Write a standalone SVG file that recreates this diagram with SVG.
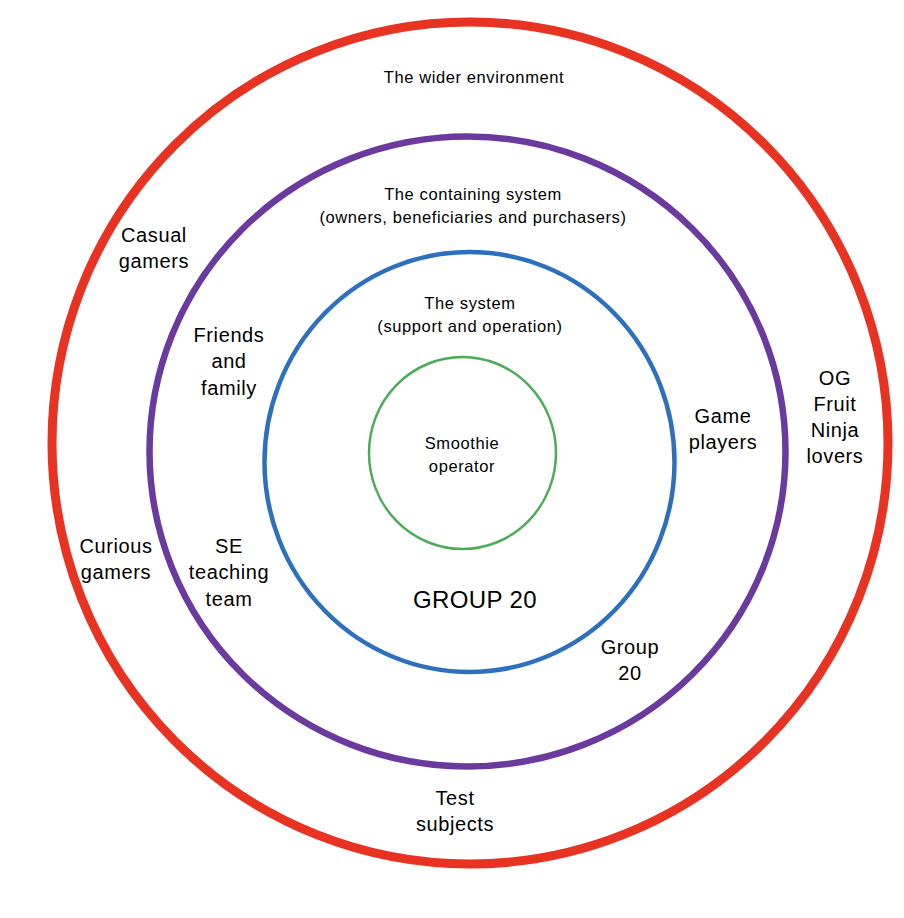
<svg xmlns="http://www.w3.org/2000/svg" width="904" height="918" viewBox="0 0 904 918">
<style>
.ring{fill:none}
text{font-family:"Liberation Sans",Arial,sans-serif;fill:#000;text-anchor:middle}
.s{font-size:16.5px;letter-spacing:0.6px}
.m{font-size:20px;letter-spacing:0.6px}
.l{font-size:24px;letter-spacing:0.4px}
</style>
<rect width="904" height="918" fill="#fff"/>
<g id="wider">
<ellipse class="ring" cx="470" cy="443" rx="418" ry="421" stroke="#e83323" stroke-width="9"/>
<text class="s" x="474" y="83">The wider environment</text>
<text class="m" x="154" y="242">Casual</text>
<text class="m" x="154" y="268">gamers</text>
<text class="m" x="835" y="385">OG</text>
<text class="m" x="835" y="411">Fruit</text>
<text class="m" x="835" y="437">Ninja</text>
<text class="m" x="835" y="463">lovers</text>
<text class="m" x="116" y="553">Curious</text>
<text class="m" x="116" y="579">gamers</text>
<text class="m" x="455" y="805">Test</text>
<text class="m" x="455" y="831">subjects</text>
</g>
<g id="containing">
<ellipse class="ring" cx="467.5" cy="451.5" rx="318" ry="315" stroke="#6a3a9e" stroke-width="6.5"/>
<text class="s" x="473" y="200">The containing system</text>
<text class="s" x="473" y="223">(owners, beneficiaries and purchasers)</text>
<text class="m" x="229" y="342">Friends</text>
<text class="m" x="229" y="368">and</text>
<text class="m" x="229" y="395">family</text>
<text class="m" x="723" y="423">Game</text>
<text class="m" x="723" y="449">players</text>
<text class="m" x="229" y="553">SE</text>
<text class="m" x="229" y="579">teaching</text>
<text class="m" x="229" y="606">team</text>
<text class="m" x="630" y="654">Group</text>
<text class="m" x="630" y="680">20</text>
</g>
<g id="system">
<ellipse class="ring" cx="469.5" cy="462" rx="205" ry="210" stroke="#2d70bd" stroke-width="4.5"/>
<text class="s" x="470" y="309">The system</text>
<text class="s" x="470" y="332">(support and operation)</text>
<text class="l" x="475" y="608">GROUP 20</text>
</g>
<g id="smoothie">
<ellipse class="ring" cx="462.5" cy="453" rx="93.5" ry="96" stroke="#4cac57" stroke-width="2.5"/>
<text class="s" x="462" y="449">Smoothie</text>
<text class="s" x="462" y="472">operator</text>
</g>
<g id="connectors"/>
</svg>
